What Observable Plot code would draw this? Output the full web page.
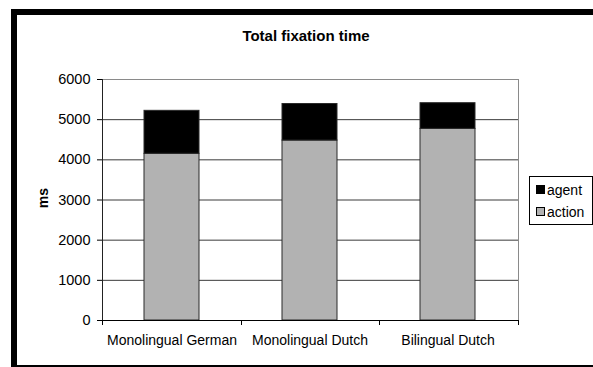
<!DOCTYPE html>
<html>
<head>
<meta charset="utf-8">
<script src="https://cdn.jsdelivr.net/npm/d3@7"></script>
<script src="https://cdn.jsdelivr.net/npm/@observablehq/plot@0.6"></script>
<style>
html, body { margin: 0; padding: 0; background: #fff; overflow: hidden; }
#wrap { position: relative; width: 593px; height: 367px; overflow: hidden; background: #fff;
  font-family: "Liberation Sans", Arial, sans-serif; }
.bar { position: absolute; background: #000; pointer-events: none; }
#title { position: absolute; left: 206px; width: 200px; top: 27px; text-align: center;
  font-weight: bold; font-size: 15px; color: #000; }
#ylabel { position: absolute; left: 23px; top: 190px; width: 40px; text-align: center;
  font-weight: bold; font-size: 14px; color: #000; transform: rotate(-90deg); line-height: 16px; }
#chart { position: absolute; left: 0; top: 0; }
#chart svg text { fill: #000; }
#legend { position: absolute; left: 529px; top: 176px; width: 62px; height: 47px;
  border: 1px solid #000; background: #fff; font-size: 14px; }
.item { position: absolute; left: 6px; height: 16px; line-height: 16px; white-space: nowrap; }
.sw { display: inline-block; width: 7px; height: 7px; border: 1px solid #000; margin-right: 2px; vertical-align: 1px; }
</style>
</head>
<body>
<div id="wrap">
  <div id="chart"></div>
  <div class="bar" style="left:11px;top:9px;width:582px;height:6px"></div>
  <div class="bar" style="left:11px;top:9px;width:6px;height:358px"></div>
  <div class="bar" style="left:11px;top:365px;width:582px;height:2px"></div>
  <div id="title">Total fixation time</div>
  <div id="ylabel">ms</div>
  <div id="legend"></div>
</div>
<script>
const categories = ["Monolingual German", "Monolingual Dutch", "Bilingual Dutch"];
const seriesNames = ["action", "agent"];
const actionValues = [4150, 4480, 4770];
const agentValues = [1070, 910, 640];
const yTicks = [0, 1000, 2000, 3000, 4000, 5000, 6000];
const seriesColors = ["#b2b2b2", "#000000"];

const rows = [];
categories.forEach((c, i) => rows.push({group: c, series: "action", value: actionValues[i]}));
categories.forEach((c, i) => rows.push({group: c, series: "agent", value: agentValues[i]}));

function categoryBoundaries(index, scales, values, dimensions) {
  const dims = [index, scales, values, dimensions].find(d => d && d.marginLeft !== undefined) || dimensions;
  const {width, height, marginLeft, marginRight, marginBottom, marginTop} = dims;
  const g = document.createElementNS("http://www.w3.org/2000/svg", "g");
  const n = categories.length;
  const w = (width - marginLeft - marginRight) / n;
  const yb = height - marginBottom;
  for (let i = 0; i <= n; i++) {
    const x = Math.round(marginLeft + i * w) + 0.5;
    const t = document.createElementNS("http://www.w3.org/2000/svg", "line");
    t.setAttribute("x1", x); t.setAttribute("x2", x);
    t.setAttribute("y1", yb); t.setAttribute("y2", yb + 5);
    t.setAttribute("stroke", "#000");
    g.appendChild(t);
  }
  const l = document.createElementNS("http://www.w3.org/2000/svg", "line");
  l.setAttribute("x1", marginLeft + 0.5); l.setAttribute("x2", marginLeft + 0.5);
  l.setAttribute("y1", marginTop); l.setAttribute("y2", yb);
  l.setAttribute("stroke", "#222");
  g.appendChild(l);
  return g;
}

const plot = Plot.plot({
  width: 593,
  height: 367,
  marginLeft: 102,
  marginRight: 75,
  marginTop: 79,
  marginBottom: 47,
  style: {fontFamily: "'Liberation Sans', Arial, sans-serif", fontSize: "14px", background: "transparent", color: "#000"},
  x: {domain: categories, paddingInner: 0.6, paddingOuter: 0.3, label: null},
  y: {domain: [0, 6000], label: null},
  color: {domain: seriesNames, range: seriesColors},
  marks: [
    Plot.frame({stroke: "#8a8a8a"}),
    Plot.gridY(yTicks.filter(t => t > 0 && t < 6000), {stroke: "#3a3a3a", strokeOpacity: 1}),
    Plot.barY(rows, {x: "group", y: "value", fill: "series", stroke: "#2a2a2a", strokeWidth: 1}),
    Plot.ruleY([0], {stroke: "#000"}),
    Plot.axisX({tickSize: 0, tickPadding: 15, label: null}),
    Plot.axisY(yTicks, {tickSize: 5, tickPadding: 7, tickFormat: d3.format("d"), label: null, fontSize: 14.5}),
    categoryBoundaries
  ]
});
document.getElementById("chart").appendChild(plot);

const legend = document.getElementById("legend");
const legendOrder = ["agent", "action"];
legendOrder.forEach((s, i) => {
  const d = document.createElement("div");
  d.className = "item";
  d.style.top = (5 + i * 22) + "px";
  const sw = document.createElement("span");
  sw.className = "sw";
  sw.style.background = seriesColors[seriesNames.indexOf(s)];
  d.appendChild(sw);
  d.appendChild(document.createTextNode(s));
  legend.appendChild(d);
});
</script>
</body>
</html>
